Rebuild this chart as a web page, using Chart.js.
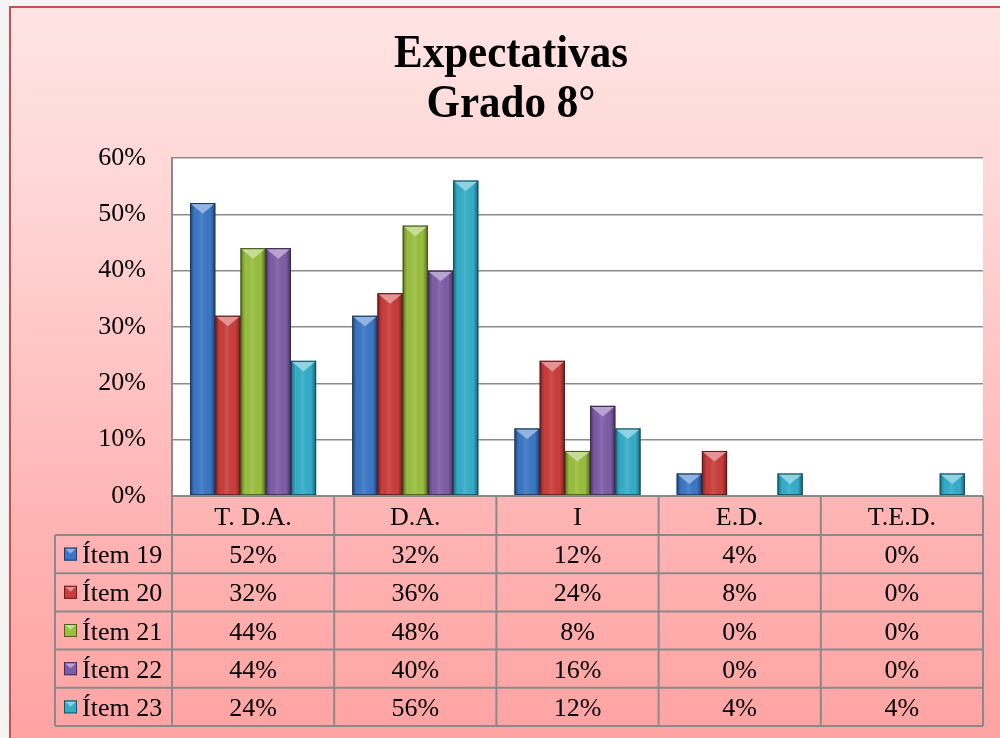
<!DOCTYPE html>
<html>
<head>
<meta charset="utf-8">
<script src="https://cdn.jsdelivr.net/npm/chart.js@4.4.1/dist/chart.umd.min.js"></script>
<style>
  html, body { margin: 0; padding: 0; background: #fff; }
  canvas { display: block; }
</style>
</head>
<body>
<canvas id="grafico" width="1000" height="738"></canvas>
<script>
// ── Datos ─────────────────────────────────────────────────────────────────────
const categorias = ['T. D.A.', 'D.A.', 'I', 'E.D.', 'T.E.D.'];
const nombresSeries = ['Ítem 19', 'Ítem 20', 'Ítem 21', 'Ítem 22', 'Ítem 23'];
const item19 = [52, 32, 12, 4, 0];
const item20 = [32, 36, 24, 8, 0];
const item21 = [44, 48, 8, 0, 0];
const item22 = [44, 40, 16, 0, 0];
const item23 = [24, 56, 12, 4, 4];
const tituloLineas = ['Expectativas', 'Grado 8°'];
const ticksY = { min: 0, max: 60, paso: 10 };

// ── Estilo ────────────────────────────────────────────────────────────────────
const COLORES = ['#3b77c6', '#c93d3b', '#99bf3e', '#7e5ca7', '#34adc9'];
const FUENTE = '"Liberation Serif", "Times New Roman", serif';
const GRIS = '#8a8a8a';

function oscurecer(hex, f) {
    const n = parseInt(hex.slice(1), 16);
    const r = Math.round(((n >> 16) & 255) * f);
    const g = Math.round(((n >> 8) & 255) * f);
    const b = Math.round((n & 255) * f);
    return `rgb(${r},${g},${b})`;
}
function aclarar(hex, t) {
    const n = parseInt(hex.slice(1), 16);
    const mix = (c) => Math.round(c + (255 - c) * t);
    return `rgb(${mix((n >> 16) & 255)},${mix((n >> 8) & 255)},${mix(n & 255)})`;
}

const valores = [item19, item20, item21, item22, item23];

// ── Plugin: fondo, área blanca ────────────────────────────────────────────────
const fondoPlugin = {
    id: 'fondo',
    beforeDraw(chart) {
        const { ctx, width, height, chartArea: ca } = chart;
        ctx.save();
        ctx.fillStyle = '#f4f4f4';
        ctx.fillRect(0, 0, width, height);
        const grad = ctx.createLinearGradient(0, 7, 0, height);
        grad.addColorStop(0, '#ffe4e4');
        grad.addColorStop(0.25, '#ffd6d6');
        grad.addColorStop(0.7, '#ffb4b4');
        grad.addColorStop(1, '#ffa3a3');
        ctx.fillStyle = grad;
        ctx.fillRect(10, 7, width - 10, height - 7);
        ctx.strokeStyle = '#c9504e';
        ctx.lineWidth = 2;
        ctx.beginPath();
        ctx.moveTo(10, height);
        ctx.lineTo(10, 7);
        ctx.lineTo(width, 7);
        ctx.stroke();
        // área de trazado
        ctx.fillStyle = '#ffffff';
        ctx.fillRect(ca.left, ca.top, ca.right - ca.left, ca.bottom - ca.top);
        ctx.restore();
    }
};

// ── Plugin: relieve de las barras ─────────────────────────────────────────────
function relieve(ctx, x, y, w, h, color) {
    if (h < 1) return;
    const l = x - w / 2, r = x + w / 2;
    const g = ctx.createLinearGradient(l, 0, r, 0);
    g.addColorStop(0, 'rgba(0,0,0,0.40)');
    g.addColorStop(0.18, 'rgba(0,0,0,0)');
    g.addColorStop(0.45, 'rgba(255,255,255,0.10)');
    g.addColorStop(0.8, 'rgba(0,0,0,0)');
    g.addColorStop(1, 'rgba(0,0,0,0.45)');
    ctx.fillStyle = g;
    ctx.fillRect(l, y, w, h);
    const th = Math.min(w * 0.42, h * 0.6);
    ctx.fillStyle = aclarar(color, 0.45);
    ctx.beginPath();
    ctx.moveTo(l + 1, y + 1);
    ctx.lineTo(r - 1, y + 1);
    ctx.lineTo(x, y + th);
    ctx.closePath();
    ctx.fill();
    ctx.strokeStyle = oscurecer(color, 0.45);
    ctx.lineWidth = 1;
    ctx.strokeRect(l + 0.5, y + 0.5, w - 1, h - 1);
}

const relievePlugin = {
    id: 'relieve',
    afterDatasetsDraw(chart) {
        const ctx = chart.ctx;
        ctx.save();
        chart.data.datasets.forEach((ds, i) => {
            chart.getDatasetMeta(i).data.forEach((bar) => {
                relieve(ctx, bar.x, bar.y, bar.width, bar.base - bar.y, COLORES[i]);
            });
        });
        ctx.restore();
    }
};

// ── Plugin: título y tabla de datos ───────────────────────────────────────────
const tablaPlugin = {
    id: 'tabla',
    afterDraw(chart) {
        const { ctx, chartArea: ca, scales } = chart;
        const xs = scales.x;
        ctx.save();

        // título
        ctx.fillStyle = '#000';
        ctx.textAlign = 'center';
        ctx.textBaseline = 'alphabetic';
        ctx.font = `bold 43px ${FUENTE}`;
        [67, 117].forEach((yb, k) => {
            ctx.save();
            ctx.translate(511, yb);
            ctx.scale(1, 1.1);
            ctx.fillText(tituloLineas[k], 0, 0);
            ctx.restore();
        });

        // tabla
        const anchoCat = (ca.right - ca.left) / categorias.length;
        const yCab = ca.bottom;
        const yFilas = 535;
        const altoFila = (726 - yFilas) / nombresSeries.length;
        const yFin = yFilas + altoFila * nombresSeries.length;
        const xIzq = 55;

        ctx.strokeStyle = GRIS;
        ctx.lineWidth = 2;
        ctx.beginPath();
        // horizontales
        ctx.moveTo(ca.left, yCab); ctx.lineTo(ca.right, yCab);
        for (let i = 0; i <= nombresSeries.length; i++) {
            const y = yFilas + altoFila * i;
            ctx.moveTo(xIzq, y); ctx.lineTo(ca.right, y);
        }
        // verticales
        ctx.moveTo(xIzq, yFilas); ctx.lineTo(xIzq, yFin);
        for (let c = 0; c <= categorias.length; c++) {
            const x = c < categorias.length ? xs.getPixelForValue(c) - anchoCat / 2 : xs.getPixelForValue(c - 1) + anchoCat / 2;
            ctx.moveTo(x, yCab); ctx.lineTo(x, yFin);
        }
        ctx.stroke();

        ctx.font = `26px ${FUENTE}`;
        ctx.fillStyle = '#000';
        ctx.textAlign = 'center';
        categorias.forEach((cat, c) => {
            ctx.fillText(cat, xs.getPixelForValue(c), (yCab + yFilas) / 2 + 9);
        });

        nombresSeries.forEach((nombre, i) => {
            const yc = yFilas + altoFila * (i + 0.5);
            // clave de leyenda
            const kx = 64, ks = 13, ky = yc - ks / 2;
            ctx.fillStyle = COLORES[i];
            ctx.fillRect(kx, ky, ks, ks);
            ctx.fillStyle = aclarar(COLORES[i], 0.45);
            ctx.beginPath();
            ctx.moveTo(kx + 1, ky + 1); ctx.lineTo(kx + ks - 1, ky + 1); ctx.lineTo(kx + ks / 2, ky + 6);
            ctx.closePath(); ctx.fill();
            ctx.strokeStyle = oscurecer(COLORES[i], 0.5);
            ctx.lineWidth = 1;
            ctx.strokeRect(kx + 0.5, ky + 0.5, ks - 1, ks - 1);

            ctx.fillStyle = '#000';
            ctx.textAlign = 'left';
            ctx.fillText(nombre, 82, yc + 9);
            ctx.textAlign = 'center';
            valores[i].forEach((v, c) => {
                ctx.fillText(v + '%', xs.getPixelForValue(c), yc + 9);
            });
        });
        ctx.restore();
    }
};

// ── Gráfico ───────────────────────────────────────────────────────────────────
const ctx = document.getElementById('grafico').getContext('2d');

new Chart(ctx, {
    type: 'bar',
    data: {
        labels: categorias,
        datasets: nombresSeries.map((nombre, i) => ({
            label: nombre,
            data: valores[i],
            backgroundColor: COLORES[i],
            borderWidth: 0,
            categoryPercentage: 0.777,
            barPercentage: 1.0,
        }))
    },
    options: {
        responsive: false,
        animation: false,
        layout: { padding: { top: 158, bottom: 242, left: 0, right: 17 } },
        plugins: {
            legend: { display: false },
            title: { display: false },
            tooltip: { enabled: false }
        },
        scales: {
            x: { display: false },
            y: {
                min: ticksY.min,
                max: ticksY.max,
                afterFit: (scale) => { scale.width = 172; },
                ticks: {
                    stepSize: ticksY.paso,
                    padding: 26,
                    color: '#000',
                    font: { family: FUENTE, size: 26 },
                    callback: (v) => v + '%'
                },
                grid: { color: GRIS, lineWidth: 1.6, drawTicks: false },
                border: { display: true, color: GRIS, width: 2 }
            }
        }
    },
    plugins: [fondoPlugin, relievePlugin, tablaPlugin]
});
</script>
</body>
</html>
